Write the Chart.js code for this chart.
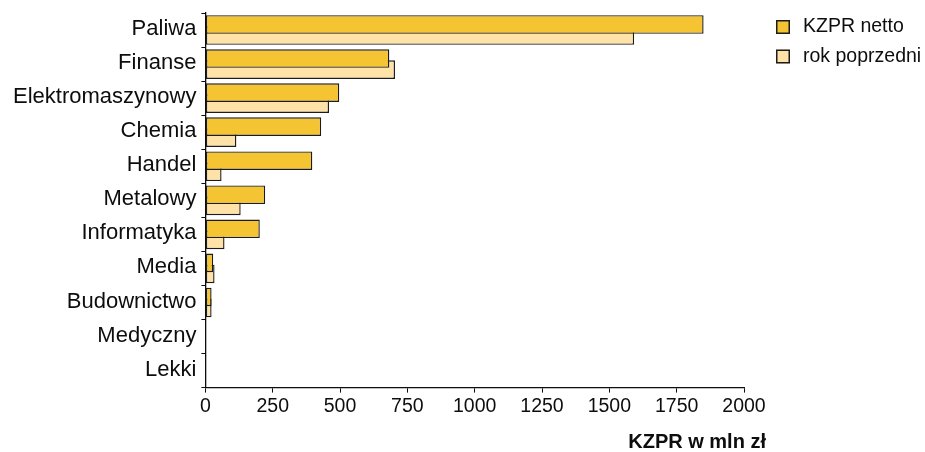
<!DOCTYPE html>
<html>
<head>
<meta charset="utf-8">
<script src="https://cdn.jsdelivr.net/npm/chart.js@4"></script>
<style>
  html, body { margin: 0; padding: 0; background: #fff; }
  #wrap { width: 925px; height: 452px; }
</style>
</head>
<body>
<div id="wrap"><canvas id="c" width="925" height="452"></canvas></div>
<script>
const categories = ['Paliwa', 'Finanse', 'Elektromaszynowy', 'Chemia', 'Handel', 'Metalowy', 'Informatyka', 'Media', 'Budownictwo', 'Medyczny', 'Lekki'];
const kzprNetto = [1850, 683, 497, 430, 397, 222, 202, 29, 23, 0, 0];
const rokPoprzedni = [1592, 704, 459, 115, 60, 131, 71, 34, 23, 0, 0];
const seriesNames = ['KZPR netto', 'rok poprzedni'];
const axisTitle = 'KZPR w mln zł';

const FONT = '"Liberation Sans", Arial, sans-serif';
const INK = '#0d0d0d';

const axisTitlePlugin = {
  id: 'axisTitleRight',
  afterDraw(chart) {
    const x = chart.scales.x;
    const ctx = chart.ctx;
    ctx.save();
    ctx.font = 'bold 20px ' + FONT;
    ctx.fillStyle = INK;
    ctx.textAlign = 'right';
    ctx.textBaseline = 'middle';
    ctx.fillText(axisTitle, x.right + 22, x.top + 55);
    ctx.restore();
  }
};

const legendPlugin = {
  id: 'sideLegend',
  afterDraw(chart) {
    const ctx = chart.ctx;
    const area = chart.chartArea;
    const bx = area.right + 32;
    const tx = area.right + 59;
    ctx.save();
    ctx.font = '19.5px ' + FONT;
    ctx.textAlign = 'left';
    ctx.textBaseline = 'middle';
    chart.data.datasets.forEach((ds, i) => {
      const cy = area.top + 14 + i * 29.5;
      const s = 14;
      ctx.fillStyle = ds.backgroundColor;
      ctx.fillRect(bx, cy - s / 2, s, s);
      ctx.lineWidth = 1.5;
      ctx.strokeStyle = ds.borderColor;
      ctx.strokeRect(bx + 0.75, cy - s / 2 + 0.75, s - 1.5, s - 1.5);
      ctx.fillStyle = INK;
      ctx.fillText(ds.label, tx, cy);
    });
    ctx.restore();
  }
};

new Chart(document.getElementById('c'), {
  type: 'bar',
  data: {
    labels: categories,
    datasets: [
      {
        label: seriesNames[0],
        data: kzprNetto,
        backgroundColor: '#F4C433',
        borderColor: '#1c1c1c',
        borderWidth: 1.4,
        borderSkipped: false,
        categoryPercentage: 0.65,
        barPercentage: 1.68
      },
      {
        label: seriesNames[1],
        data: rokPoprzedni,
        backgroundColor: '#FEE2A7',
        borderColor: '#1c1c1c',
        borderWidth: 1.4,
        borderSkipped: false,
        categoryPercentage: 0.65,
        barPercentage: 1.68
      }
    ]
  },
  options: {
    indexAxis: 'y',
    responsive: false,
    animation: false,
    devicePixelRatio: 1,
    layout: { padding: { top: 13, left: 8, right: 181, bottom: 32 } },
    plugins: {
      legend: { display: false },
      tooltip: { enabled: false }
    },
    scales: {
      x: {
        min: 0,
        max: 2000,
        ticks: {
          stepSize: 250,
          color: INK,
          padding: 2,
          font: { family: FONT, size: 19.5 },
          callback: (v) => String(v)
        },
        grid: { drawOnChartArea: false, drawTicks: true, tickLength: 5, color: INK },
        border: { color: INK, width: 1.3 }
      },
      y: {
        afterFit(scale) { scale.paddingTop = 0; scale.paddingBottom = 0; },
        ticks: {
          color: INK,
          padding: 5,
          font: { family: FONT, size: 22 },
          labelOffset: -1
        },
        grid: { drawOnChartArea: false, drawTicks: true, tickLength: 4, color: INK, offset: true },
        border: { color: INK, width: 1.3 }
      }
    }
  },
  plugins: [axisTitlePlugin, legendPlugin]
});
</script>
</body>
</html>
